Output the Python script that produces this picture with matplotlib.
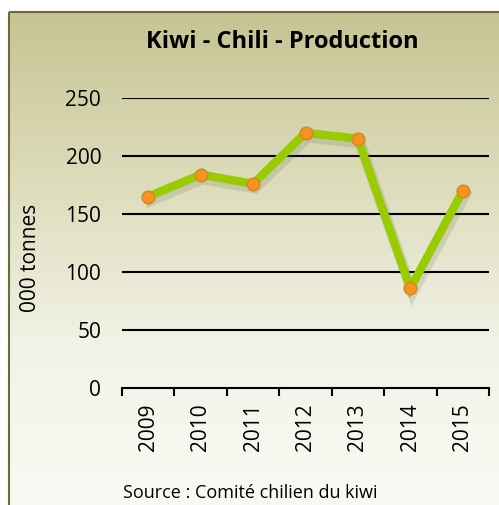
import numpy as np
import matplotlib
matplotlib.use("Agg")
import matplotlib.pyplot as plt
from matplotlib.colors import LinearSegmentedColormap
from matplotlib.patches import Rectangle
import matplotlib.patheffects as pe

years = ["2009", "2010", "2011", "2012", "2013", "2014", "2015"]
production = [165, 184, 176, 220, 215, 86, 170]
yticks = [0, 50, 100, 150, 200, 250]

plt.rcParams['font.family'] = ['Open Sans', 'DejaVu Sans']

W, H = 499, 505
fig = plt.figure(figsize=(W / 100, H / 100), dpi=100)
fig.patch.set_facecolor('white')

# background gradient panel
bg = fig.add_axes([0, 0, 1, 1], zorder=0)
bg.axis('off')
cmap = LinearSegmentedColormap.from_list('g', ['#c6c493', '#dcdcba', '#f2f2e6', '#fafaf5'])
grad = np.linspace(0, 1, 256).reshape(-1, 1)
bg.imshow(grad, cmap=cmap, aspect='auto', extent=[10, W + 5, H + 5, 12], zorder=0)
bg.add_patch(Rectangle((9.5, 11.5), W + 10, H + 10, fill=False, edgecolor='#6b6b3c', lw=1.5, zorder=1))
bg.set_xlim(0, W)
bg.set_ylim(H, 0)

# main axes
x0, x1 = 122, 489
y0, y1 = 388, 98  # pixel rows for 0 and 250
ax = fig.add_axes([x0 / W, 1 - y0 / H, (x1 - x0) / W, (y0 - y1) / H], zorder=2)
ax.patch.set_alpha(0)
xs = np.arange(len(years))
ax.set_xlim(-0.5, len(years) - 0.5)
ax.set_ylim(0, 250)
for v in yticks[1:]:
    ax.axhline(v, color='black', lw=1.5, zorder=1)
for s in ['top', 'right', 'left']:
    ax.spines[s].set_visible(False)
ax.spines['bottom'].set_linewidth(1.5)
ax.set_yticks(yticks)
ax.set_yticklabels([str(v) for v in yticks], fontsize=15)
ax.tick_params(axis='y', length=0, pad=15)
ax.set_xticks(xs)
ax.set_xticklabels(years, rotation=90, fontsize=15)
ax.tick_params(axis='x', length=0, pad=11)
ax.set_xticks(np.arange(-0.5, len(years), 1), minor=True)
ax.tick_params(axis='x', which='minor', length=6, width=1.5, direction='out')

ax.plot(xs, production, color='#99cc00', lw=6, solid_joinstyle='miter', zorder=3,
        path_effects=[pe.SimpleLineShadow(offset=(1.5, -3), shadow_color='#666666', alpha=0.18, linewidth=8),
                      pe.Normal()])
ax.plot(xs, production, 'o', ms=9, mfc='#f7941d', mec='#d08a2a', mew=1.2, zorder=4)

ax.set_ylabel('000 tonnes', fontsize=15)
ax.yaxis.set_label_coords((41 - x0) / (x1 - x0), 0.45)

fig.text(282 / W, 1 - 42 / H, 'Kiwi - Chili - Production', ha='center', va='center',
         fontsize=17, fontweight='bold')
fig.text(250 / W, 1 - 493 / H, 'Source : Comité chilien du kiwi', ha='center', va='center', fontsize=13)

fig.savefig('out.png', dpi=100)
